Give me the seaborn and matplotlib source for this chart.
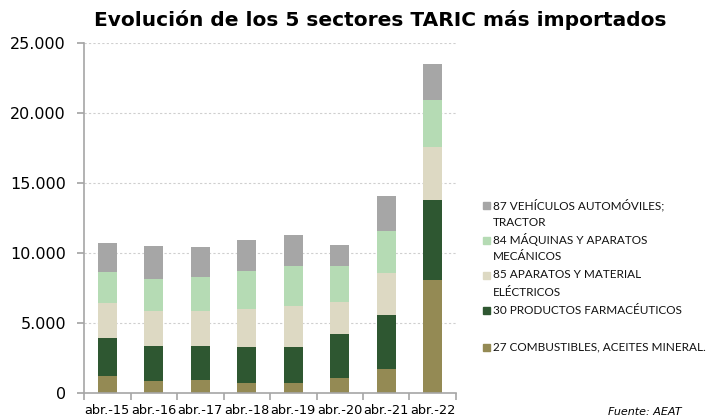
import matplotlib.pyplot as plt
import matplotlib.patches as mpatches
import numpy as np
import pandas as pd
import seaborn as sns

# Datos (millones de euros)
periodos = ['abr.-15', 'abr.-16', 'abr.-17', 'abr.-18', 'abr.-19', 'abr.-20', 'abr.-21', 'abr.-22']
combustibles = [1190, 860, 900, 710, 710, 1050, 1670, 8050]
farmaceuticos = [2690, 2500, 2450, 2550, 2550, 3120, 3900, 5690]
aparatos_electricos = [2520, 2500, 2500, 2740, 2950, 2330, 2980, 3810]
maquinas = [2190, 2260, 2450, 2670, 2860, 2570, 2980, 3360]
vehiculos = [2100, 2360, 2100, 2240, 2170, 1450, 2520, 2570]

# orden de apilado (de abajo arriba)
nombres = ['27 COMBUSTIBLES, ACEITES MINERAL.',
           '30 PRODUCTOS FARMACÉUTICOS',
           '85 APARATOS Y MATERIAL\nELÉCTRICOS',
           '84 MÁQUINAS Y APARATOS\nMECÁNICOS',
           '87 VEHÍCULOS AUTOMÓVILES;\nTRACTOR']
valores = [combustibles, farmaceuticos, aparatos_electricos, maquinas, vehiculos]
colores = ['#948A54', '#2E5731', '#DDD9C3', '#B5DBB4', '#A6A6A6']

df = pd.DataFrame({'periodo': periodos})
for nombre, v in zip(nombres, valores):
    df[nombre] = v
acum = df[nombres].cumsum(axis=1)
acum['periodo'] = periodos

sns.set_theme(style='white')
plt.rcParams['font.family'] = ['DejaVu Sans']
plt.rcParams['text.color'] = 'black'

fig = plt.figure(figsize=(7.1, 4.18), dpi=100)
ax = fig.add_axes([84 / 710, 25.3 / 418, 372 / 710, 350 / 418])

# barras apiladas: se dibuja el acumulado de arriba abajo
for i in range(len(nombres) - 1, -1, -1):
    sns.barplot(data=acum, x='periodo', y=nombres[i], color=colores[i],
                width=0.41, saturation=1, errorbar=None, linewidth=0, ax=ax)

ax.set_xlim(-0.5, len(periodos) - 0.5)
ax.set_ylim(0, 25000)
ax.set_yticks(np.arange(0, 25001, 5000))
ax.set_yticklabels(['{:,}'.format(t).replace(',', '.') for t in range(0, 25001, 5000)])
ax.set_xlabel('')
ax.set_ylabel('')

ax.yaxis.grid(True, linestyle=(0, (2, 2)), color='#CFCFCF', linewidth=0.8)
ax.set_axisbelow(True)

for s in ['top', 'right']:
    ax.spines[s].set_visible(False)
for s in ['left', 'bottom']:
    ax.spines[s].set_color('#A6A6A6')
    ax.spines[s].set_linewidth(1.2)

ax.tick_params(axis='y', which='major', left=True, length=5, color='#A6A6A6',
               labelsize=11.5, pad=8, labelcolor='black')
ax.set_xticks(np.arange(-0.5, len(periodos), 1), minor=True)
ax.tick_params(axis='x', which='minor', bottom=True, length=5, color='#A6A6A6', width=1.2)
ax.tick_params(axis='x', which='major', length=0, labelsize=9.3, pad=8, labelcolor='black')

fig.text(0.535, 0.952, 'Evolución de los 5 sectores TARIC más importados',
         ha='center', va='center', fontsize=14.5, fontweight='bold')

# leyenda
filas_y = [205, 240, 275, 310, 347]
for k, i in enumerate(range(len(nombres) - 1, -1, -1)):
    y0 = filas_y[k]
    fig.patches.append(mpatches.Rectangle((483 / 710, 1 - (y0 + 3.5) / 418), 7 / 710, 7 / 418,
                                          transform=fig.transFigure, color=colores[i]))
    for j, linea in enumerate(nombres[i].split('\n')):
        fig.text(493 / 710, 1 - (y0 + 17 * j) / 418, linea, ha='left', va='center',
                 fontsize=8.5, family=['Lato', 'DejaVu Sans'], color='#111111')

fig.text(608 / 710, 1 / 418, 'Fuente: AEAT', ha='left', va='bottom',
         fontsize=8, style='italic')

fig.savefig('out.png', dpi=100)
